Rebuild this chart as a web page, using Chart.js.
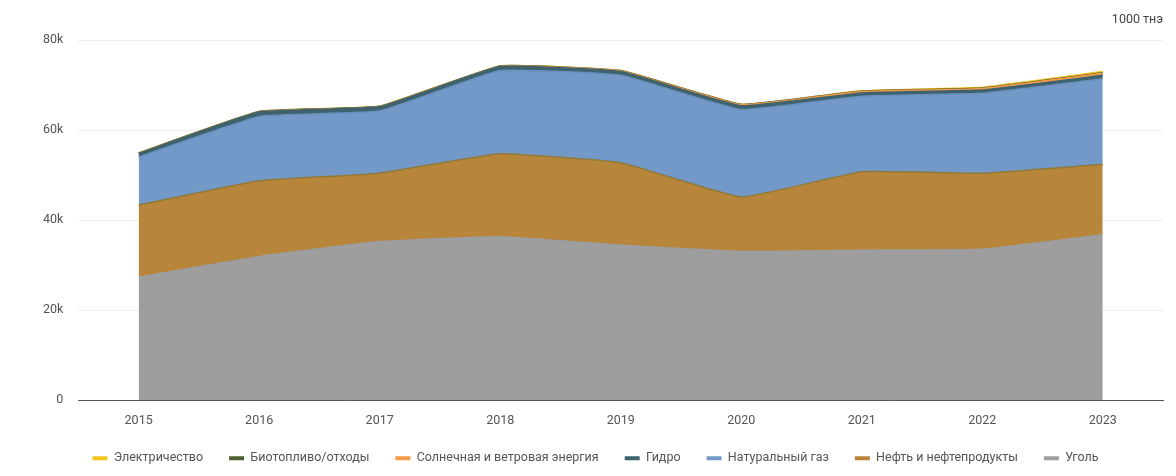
<!DOCTYPE html>
<html>
<head>
<meta charset="utf-8">
<script src="https://cdn.jsdelivr.net/npm/chart.js@4.4.1/dist/chart.umd.min.js"></script>
<style>
  html, body { margin: 0; padding: 0; background: #fff; }
  #wrap { width: 1176px; height: 476px; }
</style>
</head>
<body>
<div id="wrap"><canvas id="energyChart"></canvas></div>
<script>
// years on the x axis
var years = ["2015", "2016", "2017", "2018", "2019", "2020", "2021", "2022", "2023"];

// supply by source, 1000 toe (stacked bottom -> top)
var coal        = [27.3, 31.85, 35.2, 36.3, 34.4, 33.0, 33.3, 33.5, 36.7];
var oil         = [16.0, 16.85, 15.2, 18.4, 18.3, 12.1, 17.4, 16.9, 15.7];
var gas         = [10.7, 14.3, 13.8, 18.5, 19.45, 19.45, 16.8, 17.75, 19.0];
var hydro       = [0.8, 1.0, 0.95, 0.9, 0.85, 0.85, 0.75, 0.75, 0.75];
var solarWind   = [0.01, 0.02, 0.03, 0.04, 0.1, 0.2, 0.3, 0.35, 0.45];
var biofuel     = [0.1, 0.1, 0.1, 0.1, 0.1, 0.1, 0.1, 0.1, 0.1];
var electricity = [0.0, 0.0, 0.0, 0.0, 0.0, 0.0, 0.05, 0.15, 0.3];

var yTicks = [0, 20000, 40000, 60000, 80000];

function toUnits(arr) {
    return arr.map(function (v) { return v * 1000; });
}

function area(label, data, fillColor, lineColor, first) {
    return {
        label: label,
        data: toUnits(data),
        backgroundColor: fillColor,
        borderColor: lineColor,
        borderWidth: 1.5,
        pointRadius: 0,
        pointHoverRadius: 0,
        tension: 0.1,
        fill: first ? 'origin' : '-1'
    };
}

Chart.defaults.font.family = "Roboto, 'Liberation Sans', Arial, sans-serif";
Chart.defaults.font.size = 12.5;
Chart.defaults.color = '#666';

var datasets = [
    area('Уголь', coal, '#9e9e9e', '#9a9ea6', true),
    area('Нефть и нефтепродукты', oil, '#b8863b', '#8f7a3a'),
    area('Натуральный газ', gas, '#7399c8', '#6a8fbd'),
    area('Гидро', hydro, '#3e626e', '#3e626e'),
    area('Солнечная и ветровая энергия', solarWind, '#f59a4a', '#f59a4a'),
    area('Биотопливо/отходы', biofuel, '#4f6130', '#4f6130'),
    area('Электричество', electricity, '#f2c41c', '#f2c41c')
];

var legendColors = {
    'Электричество': '#f2c41c',
    'Биотопливо/отходы': '#4f6130',
    'Солнечная и ветровая энергия': '#f59a4a',
    'Гидро': '#3e626e',
    'Натуральный газ': '#7399c8',
    'Нефть и нефтепродукты': '#b8863b',
    'Уголь': '#9e9e9e'
};

var config = {
    type: 'line',
    data: { labels: years, datasets: datasets },
    options: {
        responsive: true,
        maintainAspectRatio: false,
        animation: false,
        layout: { padding: { left: 28, right: 13, top: 0, bottom: 1.5 } },
        scales: {
            x: {
                offset: true,
                grid: { display: false },
                border: { display: true, color: '#555', width: 1 },
                ticks: { padding: 5.5, color: '#555' },
                // keep the legend tucked in under the year labels
                afterFit: function (scale) { scale.height = 26; }
            },
            y: {
                stacked: true,
                min: 0,
                max: 80000,
                afterBuildTicks: function (axis) {
                    axis.ticks = yTicks.map(function (v) { return { value: v }; });
                },
                grid: { color: '#eeeeee', drawTicks: false },
                border: { display: false },
                ticks: {
                    padding: 15,
                    color: '#555',
                    callback: function (v) { return v === 0 ? '0' : (v / 1000) + 'k'; }
                }
            }
        },
        plugins: {
            title: {
                display: true,
                text: '1000 тнэ',
                align: 'end',
                color: '#444',
                font: { size: 12.5, weight: 'normal' },
                padding: { top: 12.5, bottom: 12.5 }
            },
            legend: {
                position: 'bottom',
                reverse: true,
                labels: {
                    boxWidth: 15,
                    boxHeight: 4,
                    padding: 26,
                    color: '#555',
                    generateLabels: function (chart) {
                        var items = Chart.defaults.plugins.legend.labels.generateLabels(chart);
                        items.forEach(function (it) {
                            it.fillStyle = legendColors[it.text];
                            it.strokeStyle = legendColors[it.text];
                            it.lineWidth = 0;
                        });
                        return items;
                    }
                }
            },
            tooltip: { enabled: false }
        }
    }
};

var myChart = new Chart(document.getElementById('energyChart'), config);
</script>
</body>
</html>
